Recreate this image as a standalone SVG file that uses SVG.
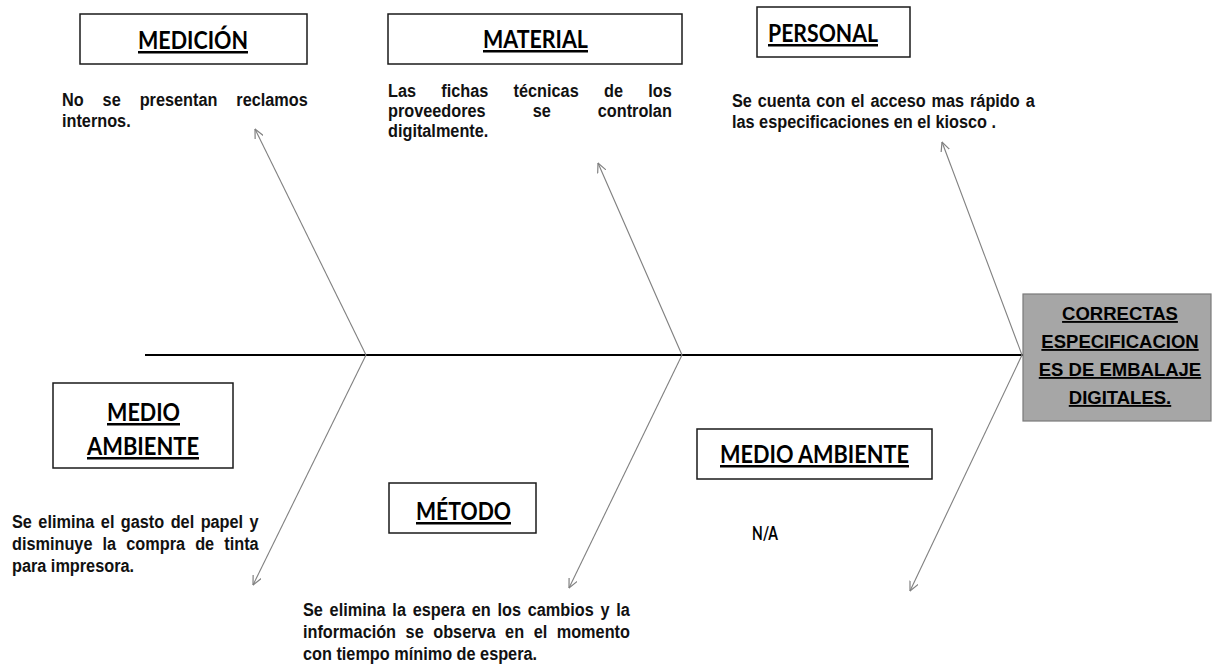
<svg xmlns="http://www.w3.org/2000/svg" width="1212" height="671" viewBox="0 0 1212 671">
<style>
.box{fill:#ffffff;stroke:#1a1a1a;stroke-width:1.5}
.hd{font-family:Lato,"Open Sans",sans-serif;font-weight:bold;font-size:25px;fill:#000;text-decoration:underline}
.na{font-family:Lato,"Open Sans",sans-serif;font-weight:bold;font-size:18px;fill:#000}
.ds{font-family:"Liberation Sans",Arial,sans-serif;font-weight:bold;font-size:18.5px;fill:#111}
.ef{font-family:"Liberation Sans",Arial,sans-serif;font-weight:bold;font-size:18.5px;fill:#000;text-decoration:underline}
.bone{stroke:#808080;stroke-width:1.1;fill:none;marker-end:url(#ah)}
</style>
<defs>
<marker id="ah" viewBox="0 0 10 10" refX="9.5" refY="5" markerWidth="10" markerHeight="10" markerUnits="userSpaceOnUse" orient="auto">
<path d="M0,0.5 L9.5,5 L0,9.5" fill="none" stroke="#808080" stroke-width="1.2"/>
</marker>
</defs>
<rect width="1212" height="671" fill="#ffffff"/>

<g id="connectors">
<line x1="145" y1="355" x2="1023" y2="355" stroke="#000" stroke-width="2"/>
<line class="bone" x1="366" y1="355" x2="255" y2="129"/>
<line class="bone" x1="366" y1="355" x2="253" y2="585"/>
<line class="bone" x1="682" y1="355" x2="598" y2="163"/>
<line class="bone" x1="682" y1="355" x2="569" y2="588"/>
<line class="bone" x1="1022" y1="355" x2="942" y2="142"/>
<line class="bone" x1="1022" y1="355" x2="910" y2="591"/>
</g>

<g id="medicion">
<rect class="box" x="80" y="14" width="227" height="50"/>
<text class="hd" x="138" y="49" textLength="110" lengthAdjust="spacingAndGlyphs">MEDICIÓN</text>
<g transform="scale(0.88,1)">
<text class="ds" x="70.45" y="106" word-spacing="16.4">No se presentan reclamos</text>
<text class="ds" x="70.45" y="127">internos.</text>
</g>
</g>

<g id="material">
<rect class="box" x="388" y="14" width="294" height="50"/>
<text class="hd" x="483" y="48" textLength="105" lengthAdjust="spacingAndGlyphs">MATERIAL</text>
<g transform="scale(0.88,1)">
<text class="ds" x="440.91" y="97" word-spacing="23.6">Las fichas técnicas de los</text>
<text class="ds" x="440.91" y="117" word-spacing="48.3">proveedores se controlan</text>
<text class="ds" x="440.91" y="137">digitalmente.</text>
</g>
</g>

<g id="personal">
<rect class="box" x="757" y="7" width="153" height="50"/>
<text class="hd" x="768" y="42" textLength="110" lengthAdjust="spacingAndGlyphs">PERSONAL</text>
<g transform="scale(0.88,1)">
<text class="ds" x="831.82" y="107" word-spacing="1.6">Se cuenta con el acceso mas rápido a</text>
<text class="ds" x="831.82" y="128">las especificaciones en el kiosco .</text>
</g>
</g>

<g id="medio-ambiente-1">
<rect class="box" x="53" y="383" width="180" height="85"/>
<text class="hd" x="107" y="421" textLength="73" lengthAdjust="spacingAndGlyphs">MEDIO</text>
<text class="hd" x="87" y="455" textLength="112" lengthAdjust="spacingAndGlyphs">AMBIENTE</text>
<g transform="scale(0.88,1)">
<text class="ds" x="13.64" y="528" word-spacing="2.2">Se elimina el gasto del papel y</text>
<text class="ds" x="13.64" y="550" word-spacing="6.4">disminuye la compra de tinta</text>
<text class="ds" x="13.64" y="572">para impresora.</text>
</g>
</g>

<g id="metodo">
<rect class="box" x="389" y="483" width="147" height="50"/>
<text class="hd" x="416" y="520" textLength="95" lengthAdjust="spacingAndGlyphs">MÉTODO</text>
<g transform="scale(0.88,1)">
<text class="ds" x="344.32" y="616" word-spacing="2.5">Se elimina la espera en los cambios y la</text>
<text class="ds" x="344.32" y="638" word-spacing="5.7">información se observa en el momento</text>
<text class="ds" x="344.32" y="660">con tiempo mínimo de espera.</text>
</g>
</g>

<g id="medio-ambiente-2">
<rect class="box" x="697" y="429" width="235" height="50"/>
<text class="hd" x="720" y="463" textLength="189" lengthAdjust="spacingAndGlyphs">MEDIO AMBIENTE</text>
<text class="na" x="752" y="540" textLength="26" lengthAdjust="spacingAndGlyphs">N/A</text>
</g>

<g id="efecto">
<rect x="1023" y="294" width="188" height="127" fill="#a6a6a6" stroke="#7a7a7a" stroke-width="1.2"/>
<text class="ef" x="1120" y="320" text-anchor="middle">CORRECTAS</text>
<text class="ef" x="1120" y="348" text-anchor="middle">ESPECIFICACION</text>
<text class="ef" x="1120" y="376" text-anchor="middle">ES DE EMBALAJE</text>
<text class="ef" x="1120" y="404" text-anchor="middle">DIGITALES.</text>
</g>
</svg>
